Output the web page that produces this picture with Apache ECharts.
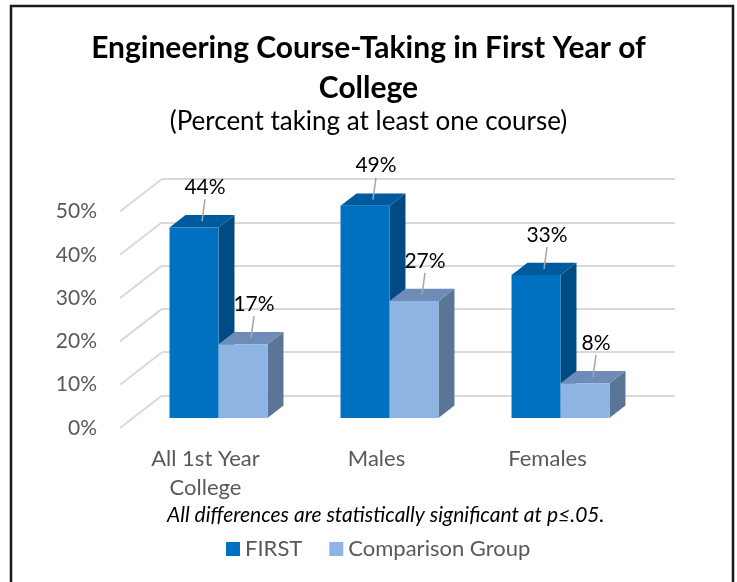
<!DOCTYPE html>
<html>
<head>
<meta charset="utf-8">
<script src="https://cdn.jsdelivr.net/npm/echarts@6/dist/echarts.min.js"></script>
<style>
html,body{margin:0;padding:0;background:#fff}
#main{width:737px;height:582px}
</style>
</head>
<body>
<div id="main"></div>
<script>
var categories = ['All 1st Year\nCollege', 'Males', 'Females'];
var firstValues = [44, 49, 33];
var comparisonValues = [17, 27, 8];
var yTicks = [0, 10, 20, 30, 40, 50];

// depth of the fake 3d box (front plane -> back wall), px
var DEPTH = [42, -32.5];
var BAR_T0 = 0.31, BAR_T1 = 0.69;
var BAR_W = 0.2865; // share of category band
var FONT = 'Lato, "Open Sans", sans-serif';

var colors = {
    first: {front: '#0070C0', top: '#005A9E', side: '#004B84'},
    comp: {front: '#8DB4E2', top: '#6E8CB6', side: '#5B7597'}
};

function barRender(side, c) {
    return function (params, api) {
        var i = api.value(0), v = api.value(1);
        var base = api.coord([i, 0]);
        var topPt = api.coord([i, v]);
        var band = api.size([1, 0])[0];
        var bw = band * BAR_W;
        var ox = DEPTH[0] * BAR_T0, oy = DEPTH[1] * BAR_T0;
        var dx = DEPTH[0] * (BAR_T1 - BAR_T0), dy = DEPTH[1] * (BAR_T1 - BAR_T0);
        var x0 = base[0] + ox + (side === 0 ? -bw : 0);
        var x1 = x0 + bw;
        var yb = base[1] + oy, yt = topPt[1] + oy;
        var anchor = [(x0 + x1) / 2 + dx / 2, yt + dy / 2];
        var lab = [anchor[0] + 3, anchor[1] - 34];
        return {
            type: 'group',
            children: [
                {type: 'polygon', shape: {points: [[x1, yt], [x1 + dx, yt + dy], [x1 + dx, yb + dy], [x1, yb]]}, style: {fill: c.side}},
                {type: 'polygon', shape: {points: [[x0, yt], [x1, yt], [x1 + dx, yt + dy], [x0 + dx, yt + dy]]}, style: {fill: c.top}},
                {type: 'rect', shape: {x: x0, y: yt, width: bw, height: yb - yt}, style: {fill: c.front}},
                {type: 'line', shape: {x1: anchor[0], y1: anchor[1], x2: lab[0], y2: lab[1] + 12}, style: {stroke: '#A6A6A6', lineWidth: 1.5}},
                {type: 'text', x: lab[0], y: lab[1], style: {text: v + '%', font: '21px ' + FONT, fill: '#000', align: 'center', verticalAlign: 'middle'}}
            ]
        };
    };
}

var myChart = echarts.init(document.getElementById('main'));
myChart.setOption({
    animation: false,
    title: [
        {
            text: 'Engineering Course-Taking in First Year of\nCollege',
            left: 'center', top: 28, padding: 0,
            textStyle: {fontFamily: FONT, fontWeight: 'bold', fontSize: 30, lineHeight: 40, color: '#000'}
        },
        {
            text: '(Percent taking at least one course)',
            left: 'center', top: 109, padding: 0,
            textStyle: {fontFamily: FONT, fontWeight: 'normal', fontSize: 26, color: '#000'}
        },
        {
            text: 'All differences are statistically significant at p\u2264.05.',
            left: 167, top: 505, padding: 0,
            textStyle: {fontFamily: FONT, fontWeight: 'normal', fontStyle: 'italic', fontSize: 21, color: '#000'}
        }
    ],
    legend: {
        left: 226, top: 538, padding: 0,
        icon: 'rect', itemWidth: 14, itemHeight: 14, itemGap: 27,
        textStyle: {fontFamily: FONT, fontSize: 22, color: '#595959'},
        data: ['FIRST', 'Comparison Group']
    },
    graphic: [{
        type: 'rect', silent: true, z: -1,
        shape: {x: 11, y: 6, width: 722, height: 620},
        style: {fill: 'none', stroke: '#1a1a1a', lineWidth: 2.5}
    }],
    grid: [
        {left: 120, top: 211.5, width: 513, height: 216.5},
        {left: 162, top: 179, width: 513, height: 216.5}
    ],
    xAxis: [
        {
            type: 'category', gridIndex: 0, data: categories,
            axisLine: {show: false}, axisTick: {show: false},
            axisLabel: {fontFamily: FONT, fontSize: 22, lineHeight: 29, color: '#595959', margin: 16}
        },
        {type: 'category', gridIndex: 1, data: categories, show: false}
    ],
    yAxis: [
        {
            type: 'value', gridIndex: 0, min: 0, max: 50, interval: 10,
            axisLine: {show: false}, axisTick: {show: false}, splitLine: {show: false},
            axisLabel: {formatter: '{value}%', fontFamily: FONT, fontSize: 21, color: '#595959', margin: 23}
        },
        {
            type: 'value', gridIndex: 1, min: 0, max: 50, interval: 10,
            axisLine: {show: false}, axisTick: {show: false}, axisLabel: {show: false},
            splitLine: {show: true, lineStyle: {color: '#D9D9D9', width: 2}}
        }
    ],
    series: [
        {
            // diagonals from the front plane to the back wall
            type: 'custom', silent: true, xAxisIndex: 0, yAxisIndex: 0,
            data: yTicks.map(function (t) { return [0, t]; }),
            renderItem: function (params, api) {
                var p = api.coord([0, api.value(1)]);
                var x = p[0] - api.size([1, 0])[0] / 2;
                return {type: 'line', shape: {x1: x, y1: p[1], x2: x + DEPTH[0], y2: p[1] + DEPTH[1]},
                    style: {stroke: '#D9D9D9', lineWidth: 2}};
            }
        },
        {
            name: 'FIRST', type: 'custom', xAxisIndex: 0, yAxisIndex: 0,
            itemStyle: {color: colors.first.front},
            data: firstValues.map(function (v, i) { return [i, v]; }),
            renderItem: barRender(0, colors.first)
        },
        {
            name: 'Comparison Group', type: 'custom', xAxisIndex: 0, yAxisIndex: 0,
            itemStyle: {color: colors.comp.front},
            data: comparisonValues.map(function (v, i) { return [i, v]; }),
            renderItem: barRender(1, colors.comp)
        }
    ]
});
</script>
</body>
</html>
